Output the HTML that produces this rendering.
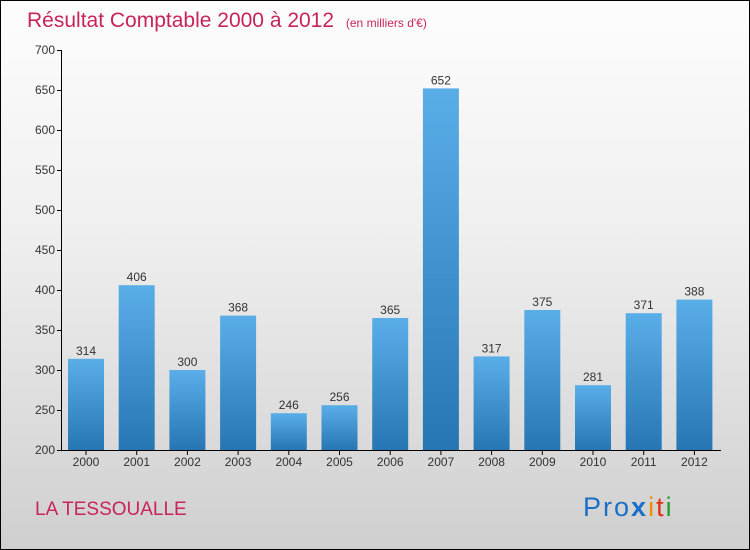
<!DOCTYPE html>
<html><head><meta charset="utf-8"><style>
body{margin:0}
#c{width:748px;height:548px;border:1px solid #000;background:linear-gradient(#fdfdfd,#f0f0f0 40%,#cfcfcf);position:relative;overflow:hidden;font-family:"Liberation Sans",sans-serif}
</style></head><body>
<div id="c">
<svg id="s" width="748" height="548">
<defs><linearGradient id="g" x1="0" y1="0" x2="0" y2="1"><stop offset="0" stop-color="#5aaee8"/><stop offset="1" stop-color="#2676b4"/></linearGradient></defs>
<text x="26" y="26" font-size="21" fill="#c8245a">Résultat Comptable 2000 à 2012 <tspan font-size="12" dx="6">(en milliers d'€)</tspan></text>
<text x="34" y="514" font-size="19" fill="#c8245a">LA TESSOUALLE</text>
<text x="582" y="515" font-size="27" letter-spacing="2"><tspan fill="#1a6fc8">Pro</tspan><tspan fill="#1a6fc8" font-weight="bold">x</tspan><tspan fill="#f08a00">i</tspan><tspan fill="#e03010">t</tspan><tspan fill="#2a9a30">i</tspan></text>
<g id="ax"></g><g id="bars"></g>
</svg></div>
<script>
const years=["2000","2001","2002","2003","2004","2005","2006","2007","2008","2009","2010","2011","2012"];
const values=[314,406,300,368,246,256,365,652,317,375,281,371,388];
const ticks=[200,250,300,350,400,450,500,550,600,650,700];
const NS="http://www.w3.org/2000/svg";
const y=v=>449-(v-200)*0.8;
const x=i=>85+i*50.7;
function mk(t,a,p){const e=document.createElementNS(NS,t);for(const k in a)e.setAttribute(k,a[k]);p.appendChild(e);return e;}
const ax=document.getElementById('ax'),bg=document.getElementById('bars');
let l=mk('line',{x1:60.5,x2:60.5,y1:y(700),y2:y(200),stroke:'#000'},ax);


l=mk('line',{x1:60,x2:720,y1:y(200)+0.5,y2:y(200)+0.5,stroke:'#000'},ax);


ticks.forEach(t=>{
 mk('line',{x1:56,x2:61,y1:y(t)+0.5,y2:y(t)+0.5,stroke:'#000'},ax);
 const tx=mk('text',{x:54,y:y(t)+4,'font-size':12,fill:'#333','text-anchor':'end'},ax);
 tx.textContent=t;
 
 
});
years.forEach((yr,i)=>{
 const v=values[i];
 const r=mk('rect',{x:x(i)-18,y:y(v),width:36,height:y(200)-y(v),fill:'url(#g)'},bg);
 
 
 const vt=mk('text',{x:x(i),y:y(v)-4,'font-size':12,fill:'#333','text-anchor':'middle'},bg);
 vt.textContent=v;
 
 
 mk('line',{x1:x(i),x2:x(i),y1:y(200),y2:y(200)+5,stroke:'#000'},ax);
 const xt=mk('text',{x:x(i),y:y(200)+16,'font-size':12,fill:'#333','text-anchor':'middle'},ax);
 xt.textContent=yr;
 
 
});
</script>
</body></html>
